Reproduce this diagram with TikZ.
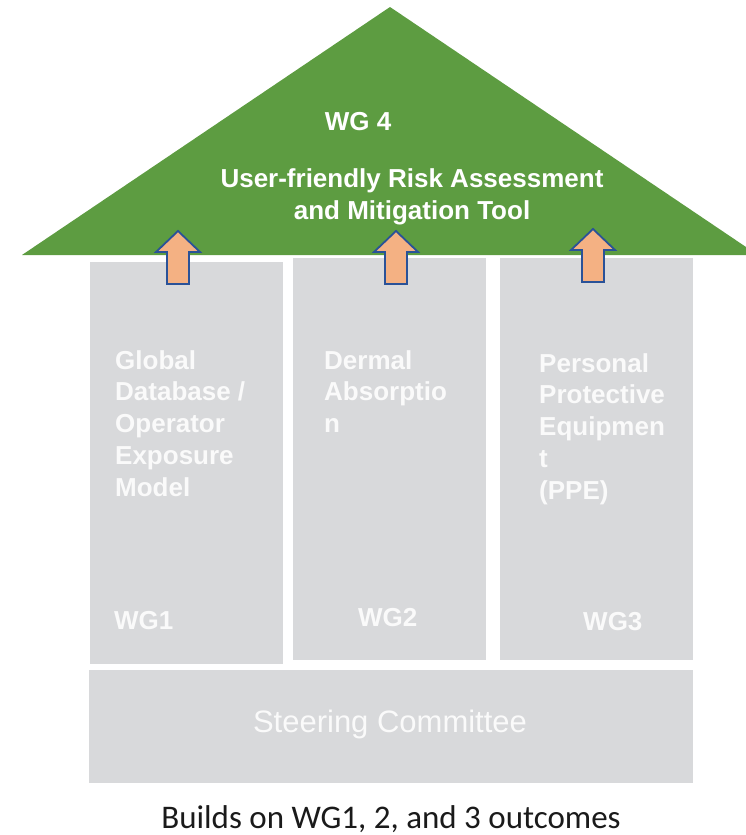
\documentclass[tikz,border=0pt]{standalone}
\usepackage{fontspec}
\setmainfont{Liberation Sans}
\newfontfamily\captionfont{Carlito}

\definecolor{roofgreen}{HTML}{5D9C41}
\definecolor{pillargray}{HTML}{D8D9DB}
\definecolor{arrowfill}{HTML}{F4B183}
\definecolor{arrowline}{HTML}{2A5298}
\definecolor{paletext}{HTML}{FAFAFA}
\definecolor{captiontext}{HTML}{1A1A1A}

\tikzset{
  pillar/.style={fill=pillargray, draw=none, inner sep=0pt, outer sep=0pt, anchor=north west},
  rooftext/.style={text=white, font=\bfseries\fontsize{26}{32}\selectfont, inner sep=0pt, align=center},
  pillartext/.style={text=paletext, font=\bfseries\fontsize{26}{31.75}\selectfont, inner sep=0pt, align=left, anchor=north west},
  wglabel/.style={text=paletext, font=\bfseries\fontsize{26}{31}\selectfont, inner sep=0pt, anchor=west},
  uparrow/.style={fill=arrowfill, draw=arrowline, line width=1.8pt, line join=miter}
}

\begin{document}
\begin{tikzpicture}[x=1pt, y=-1pt]
\useasboundingbox (0,0) rectangle (746,835);

% roof
\fill[roofgreen] (22,255) -- (390,7) -- (746,247) -- (746,255) -- cycle;

% pillars and foundation
\node[pillar, minimum width=193pt, minimum height=402pt] (p1) at (90,262) {};
\node[pillar, minimum width=193pt, minimum height=402pt] (p2) at (293,258) {};
\node[pillar, minimum width=193pt, minimum height=402pt] (p3) at (500,258) {};
\node[pillar, minimum width=604pt, minimum height=113pt] (sc) at (89,670) {};

% block arrows rising from the pillars into the roof
\foreach \cx/\ty in {178/231, 396/231, 593/229} {
  \draw[uparrow] (\cx,\ty) -- (\cx+22,\ty+21) -- (\cx+11,\ty+21) -- (\cx+11,\ty+53)
    -- (\cx-11,\ty+53) -- (\cx-11,\ty+21) -- (\cx-22,\ty+21) -- cycle;
}

% roof texts
\node[rooftext] (wg4) at (358,122) {WG 4};
\node[rooftext] (tool) at (412,197) {User-friendly Risk Assessment\\and Mitigation Tool};

% pillar texts
\node[pillartext] (t1) at (115,350) {Global\\Database /\\Operator\\Exposure\\Model};
\node[pillartext] (t2) at (324,350) {Dermal\\Absorptio\\n};
\node[pillartext] (t3) at (539,353) {Personal\\Protective\\Equipmen\\t\\(PPE)};

\node[wglabel] (l1) at (114,621) {WG1};
\node[wglabel] (l2) at (358,618) {WG2};
\node[wglabel] (l3) at (583,621.5) {WG3};

% foundation text
\node[text=paletext, font=\fontsize{31}{36}\selectfont, inner sep=0pt, anchor=base] (sctext) at (390,732) {Steering Committee};

% caption
\node[text=captiontext, font=\captionfont\fontsize{33}{40}\selectfont, inner sep=0pt, anchor=base] (caption) at (391,828) {Builds on WG1, 2, and 3 outcomes};
\end{tikzpicture}
\end{document}
